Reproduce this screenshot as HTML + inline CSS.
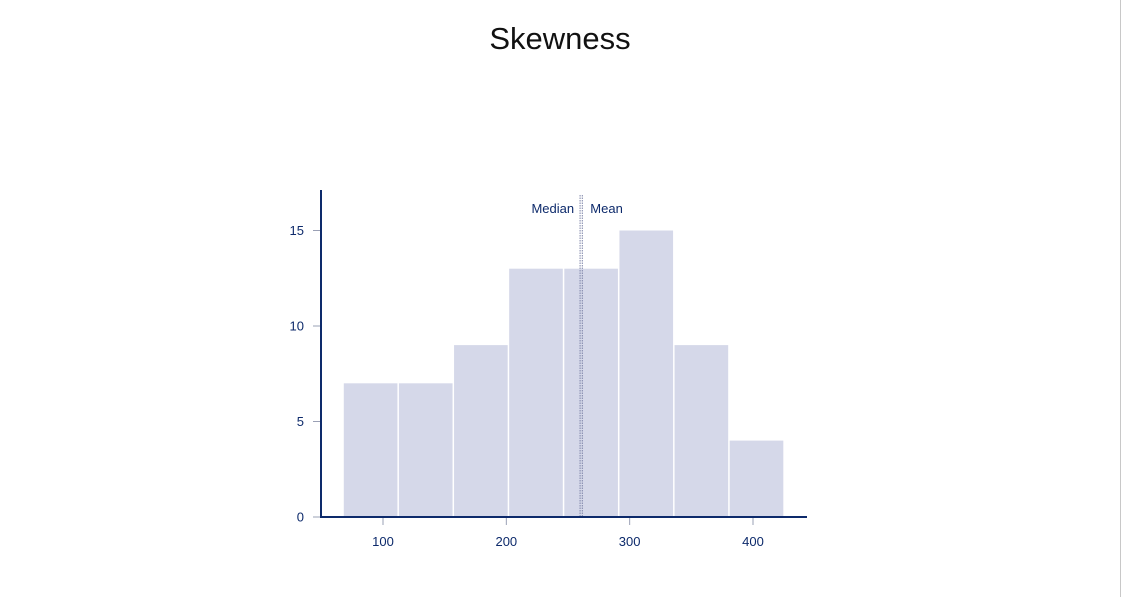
<!DOCTYPE html>
<html><head><meta charset="utf-8"><style>
html,body{margin:0;padding:0;background:#fff;}
body{width:1122px;height:597px;overflow:hidden;position:relative;font-family:"Liberation Sans",sans-serif;}
</style></head><body>
<div style="position:absolute;left:1120px;top:0;width:1px;height:597px;background:#c8c8c8"></div>
<svg id="chart" width="1122" height="597" style="position:absolute;left:0;top:0">
<text x="560" y="49" text-anchor="middle" font-size="31" fill="#111">Skewness</text>
</svg>
<script>
const binEdges=[67.6,112.3,157,201.7,246.4,291.1,335.8,380.5,425.2];
const counts=[7,7,9,13,13,15,9,4];
const xTicks=[100,200,300,400];
const yTicks=[0,5,10,15];
const medianVal=259.8, meanVal=261.6;
const svg=document.getElementById('chart');
const NS='http://www.w3.org/2000/svg';
const xs=v=>383+(v-100)*1.2333;
const ys=v=>517-v*19.1;
function mk(t,a,name){const e=document.createElementNS(NS,t);for(const k in a)e.setAttribute(k,a[k]);


svg.appendChild(e);return e;}
counts.forEach((c,i)=>{const x0=xs(binEdges[i]),x1=xs(binEdges[i+1]);
mk('rect',{x:x0+0.75,y:ys(c),width:x1-x0-1.5,height:ys(0)-ys(c),fill:'#d5d8e9'},'bar-'+i);});
[medianVal,meanVal].forEach((v,i)=>{mk('line',{x1:xs(v),x2:xs(v),y1:195,y2:517,stroke:'#7d84a8','stroke-width':1,'stroke-dasharray':'1.5,1'},i?'mean-line':'median-line');});
let t=mk('text',{x:xs(medianVal)-6,y:213,'text-anchor':'end','font-size':13,fill:'#0d2a6b'},'median-label');t.textContent='Median';
t=mk('text',{x:xs(meanVal)+8,y:213,'font-size':13,fill:'#0d2a6b'},'mean-label');t.textContent='Mean';
mk('line',{x1:321,x2:321,y1:190,y2:518,stroke:'#0d2a6b','stroke-width':2},'y-axis');
mk('line',{x1:320,x2:807,y1:517,y2:517,stroke:'#0d2a6b','stroke-width':2},'x-axis');
yTicks.forEach(v=>{mk('line',{x1:313,x2:320,y1:ys(v),y2:ys(v),stroke:'#9aa0b5'},'y-tick-'+v);
const e=mk('text',{x:304,y:ys(v)+4.5,'text-anchor':'end','font-size':13,fill:'#0d2a6b'},'y-tick-label-'+v);e.textContent=v;});
xTicks.forEach(v=>{mk('line',{x1:xs(v),x2:xs(v),y1:518,y2:525,stroke:'#9aa0b5'},'x-tick-'+v);
const e=mk('text',{x:xs(v),y:546,'text-anchor':'middle','font-size':13,fill:'#0d2a6b'},'x-tick-label-'+v);e.textContent=v;});
</script>
</body></html>
